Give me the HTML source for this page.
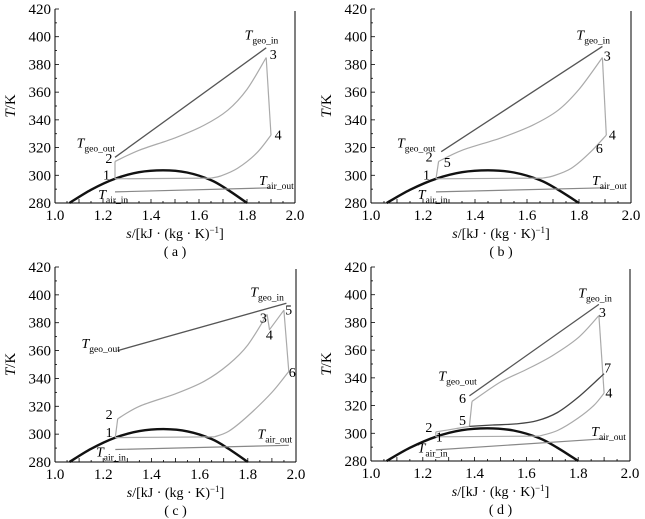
<!DOCTYPE html>
<html><head><meta charset="utf-8"><style>
html,body{margin:0;padding:0;background:#fff;}
svg{display:block;font-family:"Liberation Serif",serif;}
</style></head><body>
<svg id="s" width="645" height="519" xmlns="http://www.w3.org/2000/svg"></svg>
<script>
const S=document.getElementById('s');const NS='http://www.w3.org/2000/svg';
function el(t,a,txt){const e=document.createElementNS(NS,t);for(const k in a)e.setAttribute(k,a[k]);if(txt!==undefined)e.textContent=txt;S.appendChild(e);return e;}
const panels=[
 {X0:55,X1:295,Yt:9,Yb:203,lab:'a'},
 {X0:371,X1:631,Yt:9,Yb:203,lab:'b'},
 {X0:55,X1:296,Yt:267,Yb:462,lab:'c'},
 {X0:371,X1:630,Yt:267,Yb:461,lab:'d'}];
function mk(p){
 p.x=s=>p.X0+(s-1)*(p.X1-p.X0);
 p.y=T=>p.Yb-(T-280)/140*(p.Yb-p.Yt);
 p.line=(a,c,w)=>{const P=a.map(q=>[p.x(q[0]),p.y(q[1])]);
  el('polyline',{points:P.map(q=>q[0].toFixed(1)+','+q[1].toFixed(1)).join(' '),fill:'none',stroke:c,'stroke-width':w||1.2,'stroke-linejoin':'round'});};
 p.curve=(a,c,w)=>{const P=a.map(q=>[p.x(q[0]),p.y(q[1])]);let d='M'+P[0][0]+','+P[0][1];
  for(let i=0;i<P.length-1;i++){const p0=P[i-1]||P[i],p1=P[i],p2=P[i+1],p3=P[i+2]||P[i+1];
   const c1=[p1[0]+(p2[0]-p0[0])/6,p1[1]+(p2[1]-p0[1])/6],c2=[p2[0]-(p3[0]-p1[0])/6,p2[1]-(p3[1]-p1[1])/6];
   d+=` C${c1[0].toFixed(1)},${c1[1].toFixed(1)} ${c2[0].toFixed(1)},${c2[1].toFixed(1)} ${p2[0].toFixed(1)},${p2[1].toFixed(1)}`;}
  el('path',{d:d,fill:'none',stroke:c,'stroke-width':w||1.2});};
 p.num=(s,T,t)=>el('text',{x:p.x(s),y:p.y(T),'font-size':14},t);
 p.T=(s,T,sub)=>{const e=el('text',{x:p.x(s),y:p.y(T),'font-size':14});
  const a=document.createElementNS(NS,'tspan');a.setAttribute('font-style','italic');a.textContent='T';e.appendChild(a);
  const b=document.createElementNS(NS,'tspan');b.setAttribute('font-size','9.5');b.setAttribute('dy','4');b.textContent=sub;e.appendChild(b);};
}
panels.forEach(p=>{
 mk(p);
 el('line',{x1:p.X0,y1:p.Yt,x2:p.X0,y2:p.Yb,stroke:'#000','stroke-width':1});
 el('line',{x1:p.X0,y1:p.Yb,x2:p.X1,y2:p.Yb,stroke:'#000','stroke-width':1});
 el('line',{x1:p.X1,y1:p.Yt+2,x2:p.X1,y2:p.Yb,stroke:'#000','stroke-width':1});
 for(let T=280;T<=420;T+=10){const y=p.y(T);el('line',{x1:p.X0,y1:y,x2:p.X0+(T%20?2:4),y2:y,stroke:'#000','stroke-width':0.8});
  if(T%20==0)el('text',{x:p.X0-4,y:y+5,'font-size':15,'text-anchor':'end'},String(T));}
 for(let i=0;i<=20;i++){const s=1+i*0.05;const x=p.x(s);el('line',{x1:x,y1:p.Yb,x2:x,y2:p.Yb-(i%2?2:4),stroke:'#000','stroke-width':0.8});
  if(i%4==0)el('text',{x:x,y:p.Yb+17,'font-size':15,'text-anchor':'middle'},s.toFixed(1));}
 const ym=(p.Yt+p.Yb)/2;
 const t=el('text',{x:0,y:0,'font-size':15,'text-anchor':'middle',transform:`translate(${p.X0-40},${ym}) rotate(-90)`});
 t.innerHTML='<tspan font-style="italic">T</tspan>/K';
 const xt=el('text',{x:(p.X0+p.X1)/2,y:p.Yb+35,'font-size':14,'text-anchor':'middle'});
 xt.innerHTML='<tspan font-style="italic">s</tspan>/[kJ · (kg · K)<tspan font-size="9" dy="-5">−1</tspan><tspan dy="5">]</tspan>';
 el('text',{x:(p.X0+p.X1)/2,y:p.Yb+53,'font-size':14,'text-anchor':'middle'},'( '+p.lab+' )');
 p.curve([[1.06,280],[1.15,289.5],[1.25,297.5],[1.35,302.2],[1.45,303.6],[1.55,302],[1.65,296.5],[1.72,289.5],[1.8,280]],'#111',2.4);
});
const [a,b,c,d]=panels;
// (a)
a.line([[1.25,313],[1.88,392]],'#555',1.3);
a.line([[1.25,297.5],[1.25,310]],'#aaa');
a.curve([[1.25,310],[1.35,318],[1.5,327],[1.62,336],[1.72,347],[1.8,362],[1.88,385]],'#aaa');
a.line([[1.88,385],[1.90,329]],'#aaa');
a.curve([[1.90,329],[1.84,316],[1.76,305],[1.69,299.5],[1.65,298]],'#aaa');
a.line([[1.65,298],[1.25,297.5]],'#aaa');
a.line([[1.25,288],[1.90,291]],'#888',1.2);
a.T(1.79,398,'geo_in');a.num(1.895,384,'3');a.num(1.915,326,'4');a.T(1.09,320,'geo_out');a.num(1.21,309,'2');a.num(1.2,297,'1');a.T(1.85,293,'air_out');a.T(1.18,283,'air_in');
// (b)
b.line([[1.27,317],[1.89,393]],'#555',1.3);
b.line([[1.25,297.5],[1.26,310]],'#aaa');
b.curve([[1.26,310],[1.35,318],[1.5,327],[1.62,336],[1.72,347],[1.8,362],[1.89,385]],'#aaa');
b.line([[1.89,385],[1.905,329]],'#aaa');
b.curve([[1.905,329],[1.84,316],[1.77,305],[1.7,299.5],[1.66,298]],'#aaa');
b.line([[1.66,298],[1.25,297.5]],'#aaa');
b.line([[1.25,288],[1.90,291]],'#888',1.2);
b.T(1.79,398,'geo_in');b.num(1.895,383,'3');b.num(1.915,326,'4');b.num(1.865,316,'6');b.T(1.1,320,'geo_out');b.num(1.21,310,'2');b.num(1.28,306,'5');b.num(1.2,297,'1');b.T(1.85,293,'air_out');b.T(1.18,283,'air_in');
// (c)
c.line([[1.26,360],[1.96,394]],'#555',1.3);
c.line([[1.25,297.5],[1.26,311]],'#aaa');
c.curve([[1.26,311],[1.35,320],[1.5,329],[1.62,338],[1.72,350],[1.8,364],[1.88,386]],'#aaa');
c.line([[1.88,386],[1.89,375],[1.95,389],[1.97,345]],'#aaa');
c.curve([[1.97,345],[1.9,330],[1.8,313],[1.72,302],[1.66,298]],'#aaa');
c.line([[1.66,298],[1.25,297.5]],'#aaa');
c.line([[1.25,289],[1.97,292]],'#888',1.2);
c.T(1.81,399,'geo_in');c.num(1.85,380,'3');c.num(1.875,368,'4');c.num(1.955,386,'5');c.num(1.97,341,'6');c.T(1.11,362,'geo_out');c.num(1.21,311,'2');c.num(1.21,298,'1');c.T(1.84,297,'air_out');c.T(1.17,284,'air_in');
// (d)
d.line([[1.38,327],[1.88,393]],'#555',1.3);
d.line([[1.25,297.5],[1.65,298]],'#aaa');
d.curve([[1.65,298],[1.72,302],[1.8,311],[1.86,320],[1.90,329]],'#aaa');
d.line([[1.90,329],[1.88,385]],'#aaa');
d.curve([[1.88,385],[1.8,369],[1.7,356],[1.6,346],[1.5,337],[1.39,323]],'#aaa');
d.line([[1.39,323],[1.38,305]],'#aaa');
d.curve([[1.38,305],[1.3,302.5],[1.25,301]],'#aaa');
d.line([[1.25,301],[1.25,297.5]],'#aaa');
d.curve([[1.38,305],[1.47,306],[1.56,306.8],[1.64,309],[1.72,315],[1.8,326],[1.9,343]],'#444',1.3);
d.line([[1.25,288],[1.90,296]],'#888',1.2);
d.T(1.8,398,'geo_in');d.num(1.88,384,'3');d.num(1.9,344,'7');d.num(1.905,326,'4');d.T(1.26,338,'geo_out');d.num(1.34,322,'6');d.num(1.34,306,'5');d.num(1.21,301,'2');d.num(1.25,294,'1');d.T(1.85,298,'air_out');d.T(1.18,286,'air_in');
</script>
</body></html>
